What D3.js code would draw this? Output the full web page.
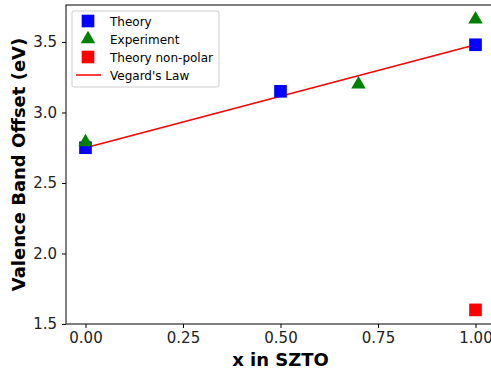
<!DOCTYPE html>
<meta charset="utf-8">
<style>
body { margin: 0; }
text { font-family: "DejaVu Sans", sans-serif; }
.tick text { font-size: 15px; fill: #222; }
.label { font-size: 18px; font-weight: bold; }
.legend text { font-size: 12px; }
</style>
<body>
<script src="https://d3js.org/d3.v7.min.js"></script>
<script>
// data
const theoryX = [0, 0.5, 1.0],
      theoryY = [2.75, 3.15, 3.48];
const exptX = [0, 0.7, 1.0],
      exptY = [2.79, 3.20, 3.66];
const nonPolarX = [1.0],
      nonPolarY = [1.60];
const vegardX = [0, 1.0],
      vegardY = [2.75, 3.48];
const xTicks = [0, 0.25, 0.5, 0.75, 1.0],
      yTicks = [1.5, 2.0, 2.5, 3.0, 3.5];

const W = 491, H = 368,
      margin = {top: 5, right: -4, bottom: 44, left: 66},
      width = W - margin.left - margin.right,
      height = H - margin.top - margin.bottom;

var x = d3.scaleLinear().domain([-0.05, 1.05]).range([0, width]);
var y = d3.scaleLinear().domain([1.5, 3.762]).range([height, 0]);

var svg = d3.select("body").append("svg")
    .attr("width", W)
    .attr("height", H)
  .append("g")
    .attr("transform", "translate(" + margin.left + "," + margin.top + ")");

// frame
svg.append("rect")
    .attr("width", width).attr("height", height)
    .attr("fill", "none").attr("stroke", "#000").attr("stroke-width", 1);

// axes
var xAxis = svg.append("g")
    .attr("transform", "translate(0," + height + ")")
    .call(d3.axisBottom(x).tickValues(xTicks).tickFormat(d3.format(".2f")).tickSizeOuter(0).tickSize(4).tickPadding(4));
var yAxis = svg.append("g")
    .call(d3.axisLeft(y).tickValues(yTicks).tickFormat(d3.format(".1f")).tickSizeOuter(0).tickSize(4).tickPadding(5));
xAxis.select(".domain").remove();
yAxis.select(".domain").remove();

// axis labels
svg.append("text").attr("class", "label")
    .attr("x", x(0.5)).attr("y", height + 42)
    .attr("text-anchor", "middle")
    .text("x in SZTO");
svg.append("text").attr("class", "label")
    .attr("transform", "rotate(-90)")
    .attr("x", -height / 2).attr("y", -41)
    .attr("text-anchor", "middle")
    .text("Valence Band Offset (eV)");

// Vegard's law line
svg.append("path")
    .datum(vegardX.map((d, i) => [d, vegardY[i]]))
    .attr("fill", "none").attr("stroke", "red").attr("stroke-width", 1.5)
    .attr("d", d3.line().x(d => x(d[0])).y(d => y(d[1])));

const sq = d3.symbol().type(d3.symbolSquare).size(160);
const tri = d3.symbol().type(d3.symbolTriangle).size(90);

svg.selectAll(".theory")
    .data(theoryX.map((d, i) => [d, theoryY[i]]))
  .enter().append("path")
    .attr("class", "theory")
    .attr("transform", d => "translate(" + x(d[0]) + "," + y(d[1]) + ")")
    .attr("d", sq).attr("fill", "blue");

svg.selectAll(".expt")
    .data(exptX.map((d, i) => [d, exptY[i]]))
  .enter().append("path")
    .attr("class", "expt")
    .attr("transform", d => "translate(" + x(d[0]) + "," + y(d[1]) + ")")
    .attr("d", tri).attr("fill", "green");

svg.selectAll(".nonpolar")
    .data(nonPolarX.map((d, i) => [d, nonPolarY[i]]))
  .enter().append("path")
    .attr("class", "nonpolar")
    .attr("transform", d => "translate(" + x(d[0]) + "," + y(d[1]) + ")")
    .attr("d", sq).attr("fill", "red");

// legend
var lg = svg.append("g").attr("class", "legend").attr("transform", "translate(6,6)");
lg.append("rect")
    .attr("width", 147).attr("height", 76).attr("rx", 2)
    .attr("fill", "white").attr("stroke", "#ccc");
const items = [
  {name: "Theory", kind: "sq", color: "blue"},
  {name: "Experiment", kind: "tri", color: "green"},
  {name: "Theory non-polar", kind: "sq", color: "red"},
  {name: "Vegard's Law", kind: "line", color: "red"}
];
items.forEach((it, i) => {
  const cy = 10 + i * 18;
  if (it.kind === "line") {
    lg.append("line").attr("x1", 4).attr("x2", 29).attr("y1", cy).attr("y2", cy)
      .attr("stroke", it.color).attr("stroke-width", 1.5);
  } else {
    lg.append("path").attr("transform", "translate(16," + cy + ")")
      .attr("d", it.kind === "sq" ? sq : tri).attr("fill", it.color);
  }
  lg.append("text").attr("x", 38).attr("y", cy + 4.5).text(it.name);
});
</script>
</body>
